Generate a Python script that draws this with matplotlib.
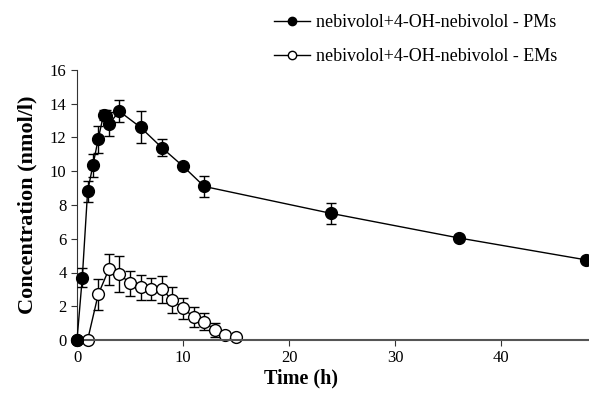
import matplotlib
matplotlib.use("Agg")
import matplotlib.pyplot as plt
from matplotlib.lines import Line2D

plt.rcParams['font.family'] = ['Liberation Serif', 'DejaVu Serif']

# PMs: nebivolol + 4-OH-nebivolol
pm_time = [0, 0.5, 1, 1.5, 2, 2.5, 2.75, 3, 4, 6, 8, 10, 12, 24, 36, 48]
pm_conc = [0, 3.7, 8.8, 10.35, 11.9, 13.35, 13.3, 12.8, 13.55, 12.6, 11.4, 10.3, 9.1, 7.5, 6.05, 4.75]
pm_err = [0, 0.55, 0.6, 0.7, 0.8, 0.3, 0.3, 0.7, 0.65, 0.95, 0.5, 0.15, 0.62, 0.62, 0.2, 0.1]

# EMs: nebivolol + 4-OH-nebivolol
em_time = [0, 1, 2, 3, 4, 5, 6, 7, 8, 9, 10, 11, 12, 13, 14, 15]
em_conc = [0, 0, 2.7, 4.18, 3.92, 3.35, 3.12, 3.02, 3.0, 2.37, 1.87, 1.38, 1.08, 0.6, 0.3, 0.16]
em_err = [0, 0, 0.9, 0.93, 1.05, 0.72, 0.75, 0.65, 0.8, 0.75, 0.6, 0.6, 0.5, 0.4, 0.2, 0.1]

labels = ['nebivolol+4-OH-nebivolol - PMs', 'nebivolol+4-OH-nebivolol - EMs']

fig = plt.figure(figsize=(5.89, 3.93), dpi=100)
ax = fig.add_axes([77/589, 1 - 340/393, 1 - 77/589, 270/393])

pm = ax.errorbar(pm_time, pm_conc, yerr=pm_err, fmt='-o', color='black',
                 mfc='black', mec='black', ms=8.5, lw=1.0, elinewidth=1,
                 capsize=3.5, capthick=1, zorder=3, label=labels[0])
em = ax.errorbar(em_time, em_conc, yerr=em_err, fmt='-o', color='black',
                 mfc='white', mec='black', ms=8.5, lw=1.0, elinewidth=1,
                 capsize=3.5, capthick=1, zorder=2, label=labels[1])
# markers sit on the axes edges, keep them whole
for art in (pm, em):
    art[0].set_clip_on(False)
    for bar in art[2]:
        bar.set_clip_on(False)
    for cap in art[1]:
        cap.set_clip_on(False)

ax.set_xlim(0, 48.3)
ax.set_ylim(0, 16)
ax.set_xticks([0, 10, 20, 30, 40])
ax.set_yticks(range(0, 17, 2))
ax.spines['top'].set_visible(False)
ax.spines['right'].set_visible(False)
ax.spines['bottom'].set_color('#555555')
ax.spines['bottom'].set_linewidth(1.5)
ax.spines['left'].set_color('#333333')
ax.tick_params(axis='both', labelsize=12, length=4, direction='out', colors='#333333',
               labelcolor='black')
ax.set_xlabel('Time (h)', fontsize=14.5, fontweight='bold')
ax.xaxis.set_label_coords(0.4375, -0.105)
ax.set_ylabel('Concentration (nmol/l)', fontsize=16, fontweight='bold', labelpad=9)

handles = [Line2D([], [], color='black', marker='o', mfc='black', mec='black', ms=6, lw=1.0),
           Line2D([], [], color='black', marker='o', mfc='white', mec='black', ms=6, lw=1.0)]
fig.legend(handles, labels, loc='upper left', bbox_to_anchor=(258/589, 1.006),
           frameon=False, fontsize=13, handlelength=2.0, handletextpad=0.3,
           labelspacing=0.95)

fig.savefig('out.png', dpi=100)
